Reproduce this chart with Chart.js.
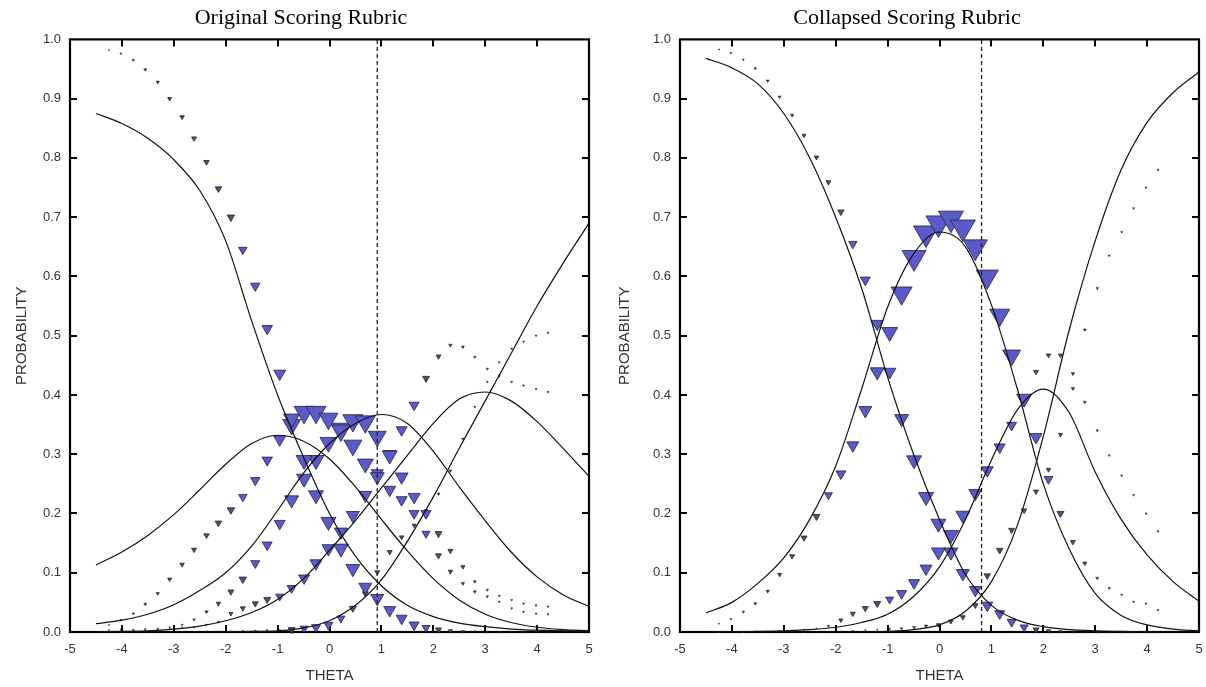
<!DOCTYPE html>
<html>
<head>
<meta charset="utf-8">
<title>Category response curves</title>
<script src="https://cdn.jsdelivr.net/npm/chart.js@4.4.1/dist/chart.umd.min.js"></script>
<style>
  html, body { margin: 0; padding: 0; background: #fff; overflow: hidden; }
  canvas { position: absolute; top: 0; display: block; }
</style>
</head>
<body>
<canvas id="chart-orig" width="603" height="687" style="left:0"></canvas>
<canvas id="chart-coll" width="603" height="687" style="left:603px"></canvas>
<script>
// theta values where the observed proportions were plotted (both panels)
const obsTheta = [-4.25, -4.02, -3.78, -3.55, -3.31, -3.08, -2.84, -2.61, -2.37, -2.14,
  -1.90, -1.67, -1.43, -1.20, -0.96, -0.73, -0.49, -0.26, -0.02, 0.22,
  0.45, 0.69, 0.92, 1.16, 1.39, 1.63, 1.86, 2.10, 2.33, 2.57,
  2.80, 3.04, 3.27, 3.51, 3.74, 3.98, 4.21];

const curveTheta = [-4.5, -4, -3.5, -3, -2.5, -2, -1.5, -1, -0.5, 0, 0.5, 1, 1.5, 2, 2.5, 3, 3.5, 4, 4.5, 5];

// ---- Original scoring rubric (5 categories) ----
const origCut = 0.92;
const origCurve0 = [0.875, 0.858, 0.833, 0.797, 0.745, 0.660, 0.525, 0.400, 0.295, 0.200, 0.128, 0.078, 0.045, 0.026, 0.015, 0.009, 0.005, 0.003, 0.002, 0.001];
const origCurve1 = [0.113, 0.135, 0.163, 0.198, 0.240, 0.283, 0.318, 0.332, 0.322, 0.292, 0.245, 0.190, 0.137, 0.090, 0.054, 0.030, 0.016, 0.008, 0.004, 0.002];
const origCurve2 = [0.014, 0.020, 0.030, 0.046, 0.070, 0.100, 0.145, 0.205, 0.268, 0.318, 0.352, 0.367, 0.352, 0.305, 0.245, 0.188, 0.135, 0.093, 0.063, 0.043];
const origCurve3 = [0.000, 0.001, 0.002, 0.005, 0.010, 0.019, 0.033, 0.055, 0.090, 0.138, 0.188, 0.243, 0.298, 0.352, 0.393, 0.405, 0.390, 0.355, 0.310, 0.263];
const origCurve4 = [0.000, 0.000, 0.000, 0.000, 0.000, 0.000, 0.001, 0.002, 0.007, 0.019, 0.045, 0.088, 0.153, 0.228, 0.310, 0.390, 0.470, 0.550, 0.622, 0.690];

const origObs0 = [0.982, 0.976, 0.965, 0.949, 0.928, 0.900, 0.869, 0.833, 0.793, 0.748,
  0.700, 0.645, 0.584, 0.512, 0.436, 0.360, 0.290, 0.231, 0.186, 0.141,
  0.107, 0.076, 0.057, 0.037, 0.023, 0.012, 0.007, 0.004, 0.002, 0.001,
  0.001, 0.000, 0.000, 0.000, 0.000, 0.000, 0.000];
const origObs1 = [0.012, 0.020, 0.031, 0.047, 0.065, 0.089, 0.114, 0.139, 0.163, 0.184,
  0.206, 0.228, 0.256, 0.290, 0.325, 0.350, 0.371, 0.371, 0.360, 0.340,
  0.315, 0.284, 0.262, 0.240, 0.223, 0.200, 0.166, 0.129, 0.102, 0.082,
  0.068, 0.060, 0.051, 0.040, 0.034, 0.031, 0.030];
const origObs2 = [0.003, 0.004, 0.004, 0.005, 0.006, 0.008, 0.012, 0.021, 0.034, 0.048,
  0.068, 0.089, 0.116, 0.147, 0.183, 0.223, 0.259, 0.290, 0.320, 0.343,
  0.357, 0.355, 0.330, 0.298, 0.262, 0.228, 0.200, 0.166, 0.137, 0.110,
  0.085, 0.071, 0.061, 0.054, 0.048, 0.045, 0.043];
const origObs3 = [0.001, 0.001, 0.002, 0.003, 0.004, 0.005, 0.007, 0.008, 0.012, 0.017,
  0.031, 0.040, 0.048, 0.055, 0.060, 0.074, 0.091, 0.116, 0.141, 0.169,
  0.197, 0.231, 0.268, 0.300, 0.341, 0.383, 0.428, 0.465, 0.484, 0.481,
  0.464, 0.444, 0.432, 0.422, 0.416, 0.410, 0.405];
const origObs4 = [0.000, 0.000, 0.000, 0.000, 0.000, 0.000, 0.000, 0.000, 0.001, 0.001,
  0.001, 0.002, 0.002, 0.003, 0.003, 0.004, 0.006, 0.008, 0.012, 0.023,
  0.040, 0.065, 0.101, 0.135, 0.160, 0.180, 0.205, 0.233, 0.272, 0.326,
  0.380, 0.422, 0.455, 0.478, 0.490, 0.500, 0.505];

// ---- Collapsed scoring rubric (4 categories) ----
const collCut = 0.81;
const collCurve0 = [0.968, 0.952, 0.925, 0.875, 0.800, 0.700, 0.580, 0.430, 0.300, 0.190, 0.097, 0.045, 0.020, 0.009, 0.004, 0.002, 0.001, 0.000, 0.000, 0.000];
const collCurve1 = [0.032, 0.050, 0.082, 0.125, 0.190, 0.280, 0.410, 0.548, 0.638, 0.675, 0.650, 0.552, 0.410, 0.250, 0.140, 0.065, 0.028, 0.012, 0.005, 0.002];
const collCurve2 = [0.000, 0.000, 0.001, 0.002, 0.004, 0.008, 0.016, 0.030, 0.060, 0.110, 0.190, 0.290, 0.375, 0.410, 0.370, 0.270, 0.190, 0.130, 0.085, 0.052];
const collCurve3 = [0.000, 0.000, 0.000, 0.000, 0.000, 0.000, 0.000, 0.001, 0.004, 0.012, 0.035, 0.085, 0.180, 0.330, 0.510, 0.660, 0.780, 0.860, 0.910, 0.945];

const collObs0 = [0.983, 0.977, 0.966, 0.951, 0.930, 0.903, 0.872, 0.838, 0.801, 0.759,
  0.709, 0.655, 0.594, 0.520, 0.439, 0.360, 0.290, 0.228, 0.183, 0.135,
  0.099, 0.071, 0.045, 0.031, 0.017, 0.008, 0.004, 0.002, 0.001, 0.000,
  0.000, 0.000, 0.000, 0.000, 0.000, 0.000, 0.000];
const collObs1 = [0.014, 0.022, 0.034, 0.048, 0.069, 0.097, 0.128, 0.159, 0.195, 0.231,
  0.267, 0.315, 0.374, 0.439, 0.506, 0.572, 0.632, 0.673, 0.690, 0.698,
  0.683, 0.650, 0.600, 0.535, 0.467, 0.394, 0.329, 0.258, 0.200, 0.152,
  0.116, 0.091, 0.074, 0.063, 0.051, 0.048, 0.037];
const collObs2 = [0.000, 0.000, 0.000, 0.001, 0.001, 0.002, 0.003, 0.004, 0.006, 0.010,
  0.020, 0.031, 0.040, 0.048, 0.055, 0.065, 0.083, 0.107, 0.135, 0.164,
  0.197, 0.234, 0.273, 0.312, 0.349, 0.390, 0.439, 0.467, 0.467, 0.436,
  0.388, 0.340, 0.298, 0.264, 0.231, 0.200, 0.170];
const collObs3 = [0.000, 0.000, 0.000, 0.000, 0.000, 0.000, 0.000, 0.000, 0.000, 0.000,
  0.001, 0.002, 0.003, 0.004, 0.005, 0.006, 0.008, 0.010, 0.012, 0.018,
  0.025, 0.045, 0.095, 0.138, 0.172, 0.205, 0.237, 0.274, 0.333, 0.411,
  0.510, 0.580, 0.635, 0.675, 0.715, 0.750, 0.780];

// marker widths in px (triangle size grows with the number of cases)
const origW0 = [1.5, 2, 2.5, 3, 3.5, 4, 4.5, 5, 5.5, 6.5, 7.5, 8.5, 9.5, 10.5, 12, 16, 16, 15, 15, 15,
  14, 13, 13, 12, 11, 10, 8, 6, 4, 3, 2, 2, 2, 2, 2, 2, 2];
const origW1 = [1.5, 2, 2.5, 3, 3.5, 4, 4.5, 5, 5.5, 6.5, 7.5, 8.5, 9.5, 10.5, 12, 18, 20, 20, 19, 19,
  18, 16, 14, 12, 11, 10, 8, 6, 4.5, 3.5, 3, 2.5, 2, 2, 2, 2, 2];
const origW2 = [1.5, 1.5, 1.5, 1.5, 1.5, 1.5, 2, 2.5, 3.5, 4.5, 6, 7.5, 9, 10, 11, 14, 15, 16, 17, 19,
  20, 20, 18, 15, 13, 12, 10, 7, 5, 4, 3, 2.5, 2, 2, 2, 2, 2];
const origW3 = [1.5, 1.5, 1.5, 1.5, 1.5, 1.5, 1.5, 1.5, 2, 2.5, 4, 5, 6, 7, 8, 9, 11, 12, 13, 13,
  13, 13, 12, 13, 11, 10, 7, 5, 3.5, 3, 2.5, 2.5, 2, 2, 2, 2, 2];
const origW4 = [1.5, 1.5, 1.5, 1.5, 1.5, 1.5, 1.5, 1.5, 1.5, 1.5, 1.5, 1.5, 2, 2, 2, 7, 8, 9, 9, 8,
  7, 6, 5, 5, 4.5, 4, 3.5, 3, 3, 2.5, 2, 2, 2, 2, 2, 2, 2];

const collW0 = [1.5, 2, 2, 2.5, 3, 3, 3.5, 4, 4.5, 5, 6.5, 8.5, 10, 12, 12.5, 14, 15, 15, 15, 14,
  13, 12, 11, 10, 9, 8, 6, 4, 3, 2, 2, 2, 2, 2, 2, 2, 2];
const collW1 = [1.5, 2, 2.5, 3, 3.5, 4, 5, 6, 7, 8, 10, 12, 13, 14, 16, 21, 24, 25, 25, 25,
  25, 24, 22, 20, 18, 15, 12, 9, 7, 5, 4, 3, 2.5, 2, 2, 2, 2];
const collW2 = [1.5, 1.5, 1.5, 1.5, 1.5, 1.5, 1.5, 1.5, 1.5, 2.5, 4, 5, 6, 7, 8, 10, 11, 12, 14, 15,
  14, 13, 12, 11, 10, 10, 5, 4.5, 4, 3.5, 3, 2.5, 2, 2, 2, 2, 2];
const collW3 = [1.5, 1.5, 1.5, 1.5, 1.5, 1.5, 1.5, 1.5, 1.5, 1.5, 1.5, 1.5, 1.5, 1.5, 2, 2.5, 3, 3.5, 4, 4.5,
  5, 5.5, 6.5, 6.5, 6, 5.5, 5, 4.5, 4, 3.5, 3, 2.5, 2, 2, 2, 2, 2];

Chart.defaults.font.family = "'Liberation Sans', Arial, sans-serif";

// small triangles look almost black in the original, big ones are blue
function markerColor(w) {
  if (w < 4) return '#3a3a3a';
  if (w < 8) return '#52526e';
  return '#5a5acb';
}

function curveDataset(values) {
  return {
    data: curveTheta.map((t, i) => ({ x: t, y: values[i] })),
    showLine: true,
    borderColor: '#111',
    borderWidth: 1.2,
    pointRadius: 0,
    cubicInterpolationMode: 'monotone',
    fill: false,
    order: 1
  };
}

function obsDataset(values, widths) {
  return {
    data: obsTheta.map((t, i) => ({ x: t, y: values[i] })),
    showLine: false,
    pointStyle: 'triangle',
    pointRotation: 180,
    pointRadius: widths.map(w => w / 1.73),
    pointBackgroundColor: widths.map(markerColor),
    pointBorderColor: '#23233a',
    pointBorderWidth: widths.map(w => (w < 4 ? 0.5 : 0.8)),
    clip: false,
    order: 2
  };
}

function cutDataset(theta) {
  return {
    data: [{ x: theta, y: 0 }, { x: theta, y: 1 }],
    showLine: true,
    borderColor: '#222',
    borderWidth: 1.3,
    borderDash: [4, 3],
    pointRadius: 0,
    order: 0
  };
}

// box around the plot with inward tick marks on all four sides
const frameTicks = {
  id: 'frameTicks',
  beforeDatasetsDraw(chart) {
    const { ctx, chartArea: a, scales } = chart;
    const len = 7;
    ctx.save();
    ctx.strokeStyle = '#000';
    ctx.lineWidth = 2;
    ctx.beginPath();
    scales.x.ticks.forEach(t => {
      if (t.value <= -4.999 || t.value >= 4.999) return;
      const px = Math.round(scales.x.getPixelForValue(t.value));
      ctx.moveTo(px, a.bottom); ctx.lineTo(px, a.bottom - len);
      ctx.moveTo(px, a.top); ctx.lineTo(px, a.top + len);
    });
    scales.y.ticks.forEach(t => {
      if (t.value <= 0.001 || t.value >= 0.999) return;
      const py = Math.round(scales.y.getPixelForValue(t.value));
      ctx.moveTo(a.left, py); ctx.lineTo(a.left + len, py);
      ctx.moveTo(a.right, py); ctx.lineTo(a.right - len, py);
    });
    ctx.stroke();
    ctx.lineWidth = 2.2;
    ctx.strokeRect(a.left, a.top, a.right - a.left, a.bottom - a.top);
    ctx.restore();
  }
};

function makePanel(canvasId, titleText, curves, observed, cutTheta, pad, axisWidth, yTitlePad) {
  const datasets = [cutDataset(cutTheta)];
  curves.forEach(c => datasets.push(curveDataset(c)));
  observed.forEach(o => datasets.push(obsDataset(o[0], o[1])));

  return new Chart(document.getElementById(canvasId), {
    type: 'scatter',
    data: { datasets: datasets },
    plugins: [frameTicks],
    options: {
      responsive: false,
      animation: false,
      devicePixelRatio: 1,
      events: [],
      layout: { autoPadding: false, padding: { left: pad.left, right: pad.right, top: 0, bottom: 0 } },
      plugins: {
        legend: { display: false },
        tooltip: { enabled: false },
        title: {
          display: true,
          text: titleText,
          color: '#000',
          font: { family: "'Liberation Serif', 'Times New Roman', serif", size: 22, weight: 'normal' },
          padding: { top: 5, bottom: 8 }
        }
      },
      scales: {
        x: {
          type: 'linear',
          min: -5,
          max: 5,
          afterFit: s => { s.height = 55; },
          border: { display: false },
          // invisible tick marks only push the labels down; real ticks are drawn by frameTicks
          grid: { display: true, drawOnChartArea: false, drawTicks: true, tickLength: 10, tickColor: 'rgba(0,0,0,0)' },
          ticks: { stepSize: 1, padding: 0, color: '#333', font: { size: 13 }, maxRotation: 0, autoSkip: false },
          title: { display: true, text: 'THETA', color: '#333', font: { size: 15 }, padding: { top: 0, bottom: 2 } }
        },
        y: {
          min: 0,
          max: 1,
          afterFit: s => { s.width = axisWidth; },
          border: { display: false },
          grid: { display: false, drawTicks: false },
          ticks: { stepSize: 0.1, padding: 9, color: '#333', font: { size: 13 }, callback: v => v.toFixed(1) },
          title: { display: true, text: 'PROBABILITY', color: '#333', font: { size: 15 }, padding: { top: yTitlePad, bottom: 0 } }
        }
      }
    }
  });
}

makePanel('chart-orig', 'Original Scoring Rubric',
  [origCurve0, origCurve1, origCurve2, origCurve3, origCurve4],
  [[origObs0, origW0], [origObs1, origW1], [origObs2, origW2], [origObs3, origW3], [origObs4, origW4]],
  origCut, { left: 13, right: 14 }, 57, 0);

makePanel('chart-coll', 'Collapsed Scoring Rubric',
  [collCurve0, collCurve1, collCurve2, collCurve3],
  [[collObs0, collW0], [collObs1, collW1], [collObs2, collW2], [collObs3, collW3]],
  collCut, { left: 12, right: 7 }, 65, 1);
</script>
</body>
</html>
